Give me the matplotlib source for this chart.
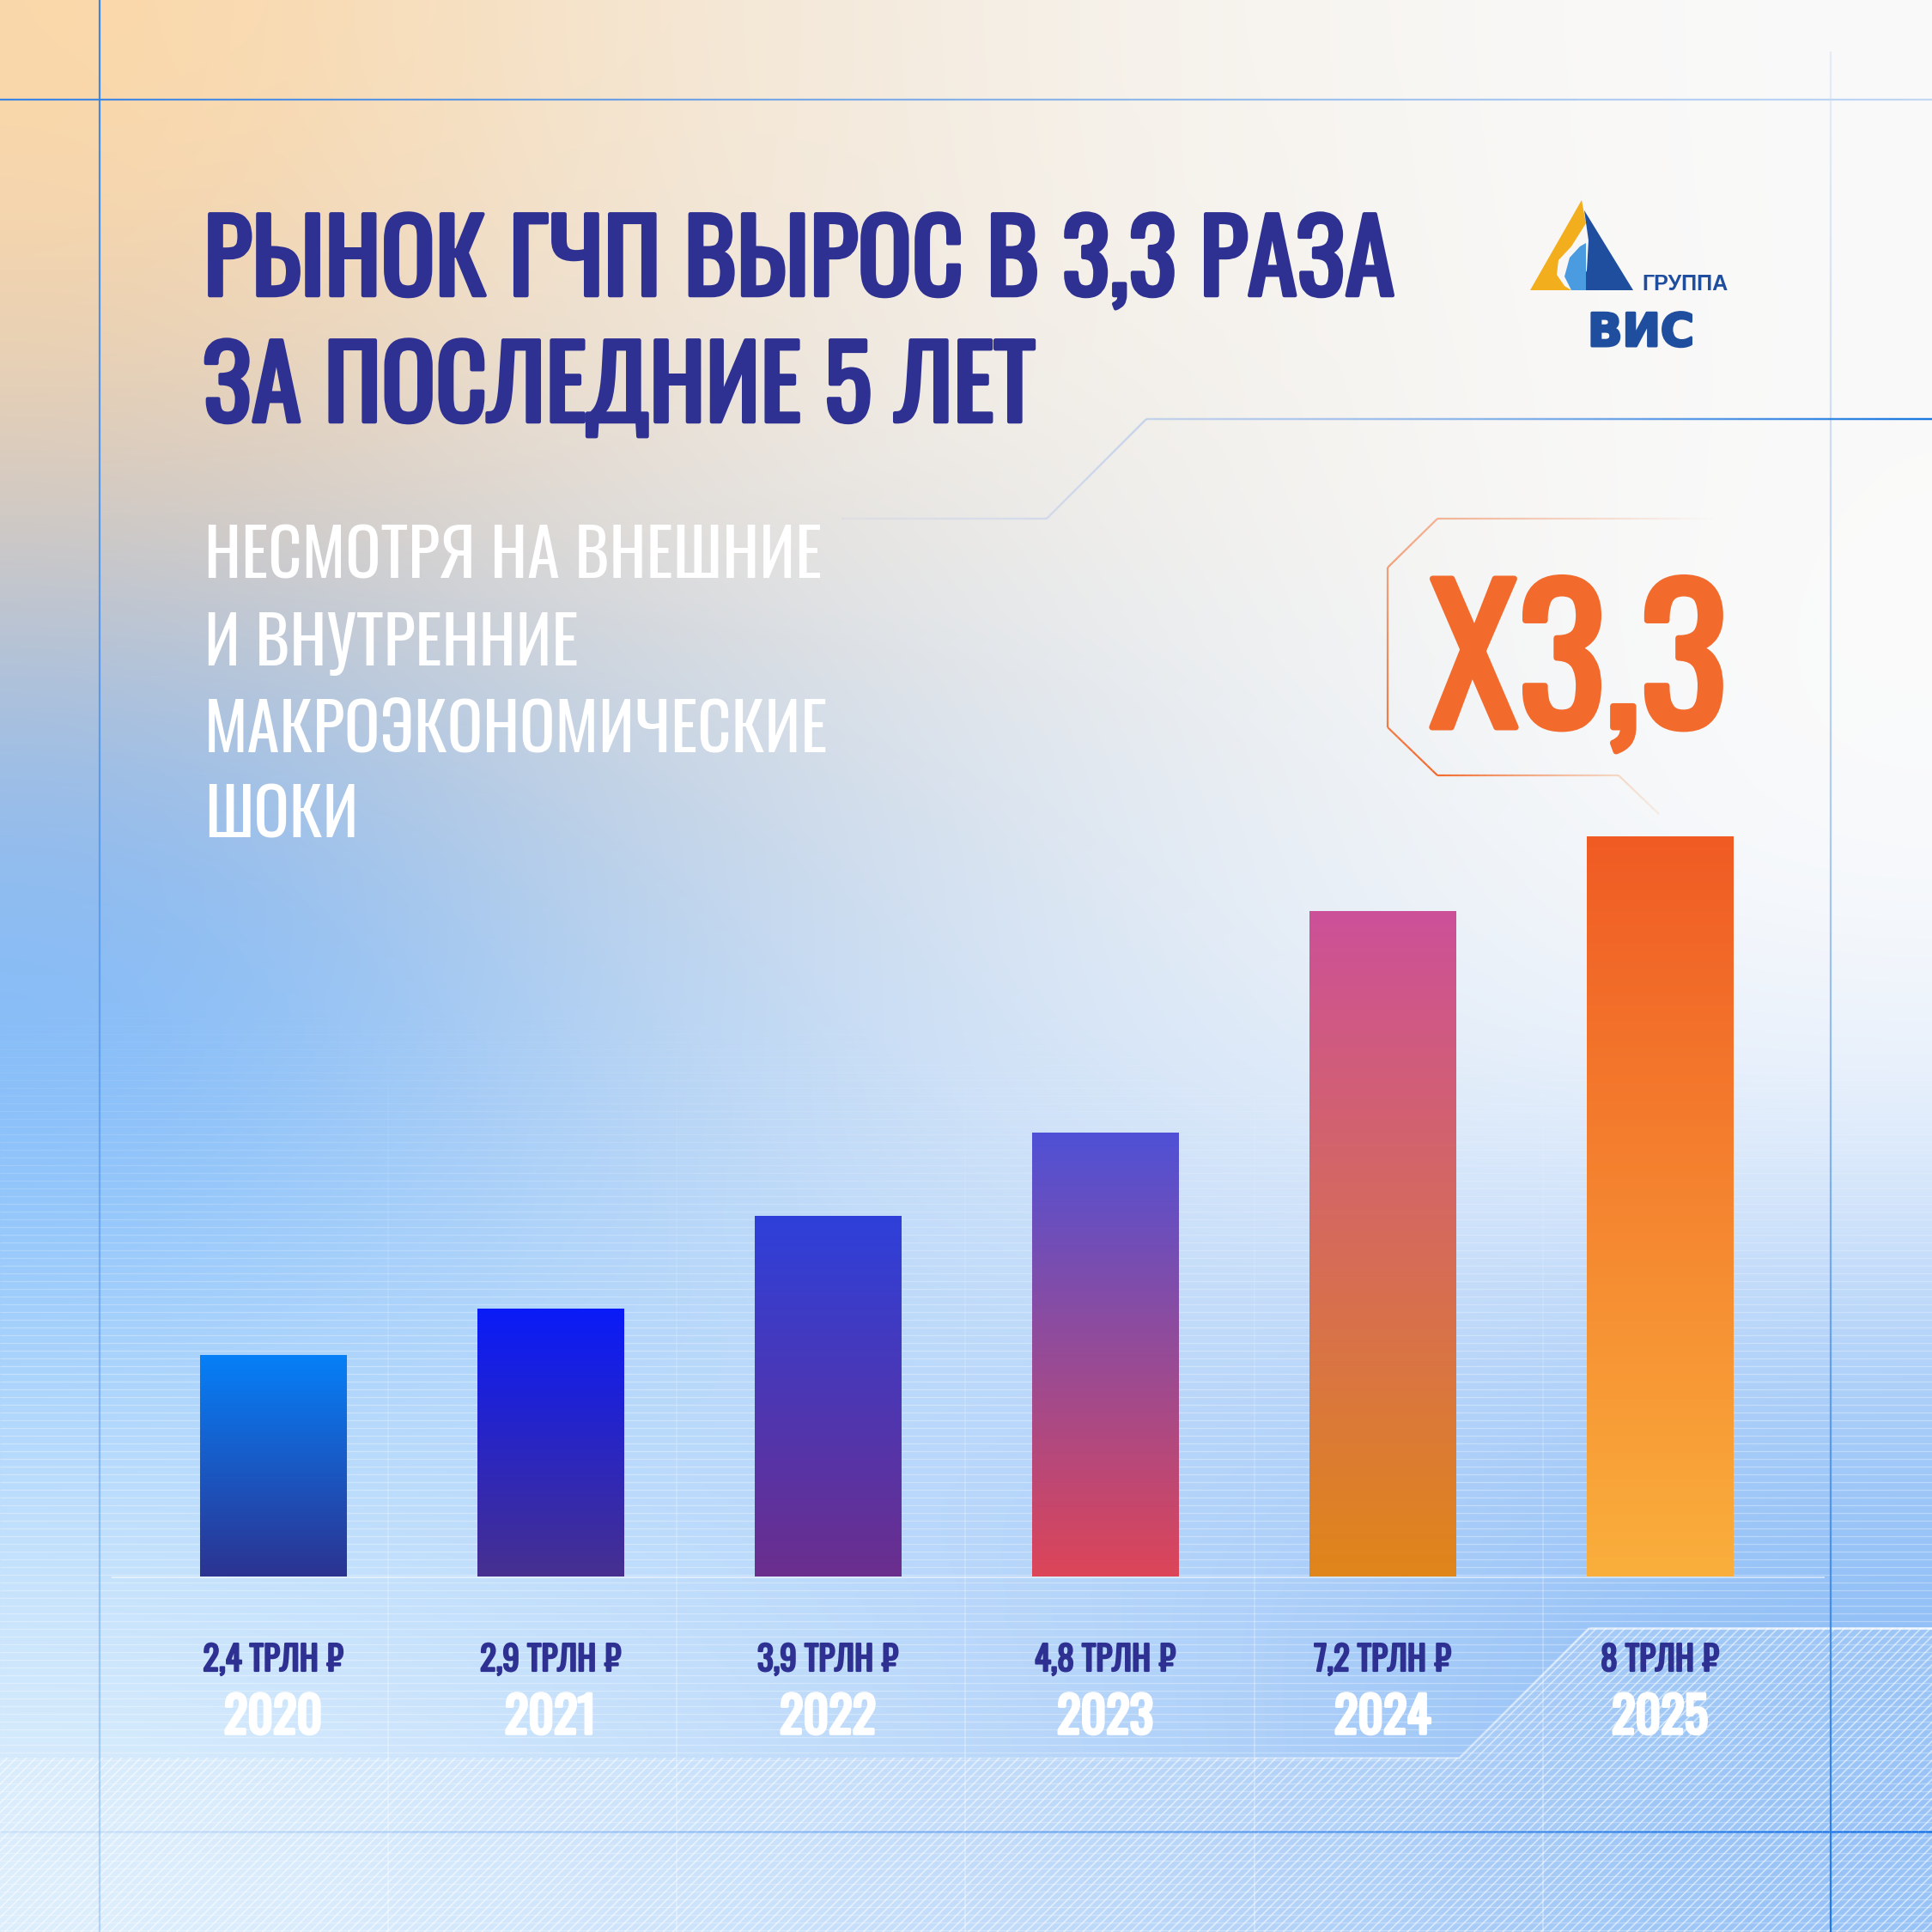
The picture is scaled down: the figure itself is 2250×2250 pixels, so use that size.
import matplotlib
import numpy as np

matplotlib.use("Agg")
import matplotlib.patheffects as pe
import matplotlib.pyplot as plt
from matplotlib import font_manager as fm
from matplotlib.collections import LineCollection
from matplotlib.colors import to_rgb
from matplotlib.patches import Polygon
from matplotlib.transforms import blended_transform_factory

DPI = 100
SIZE = 2250

# ---- data ----
years = ["2020", "2021", "2022", "2023", "2024", "2025"]
values = [2.4, 2.9, 3.9, 4.8, 7.2, 8.0]  # трлн руб.
value_labels = ["2,4 ТРЛН ₽", "2,9 ТРЛН ₽", "3,9 ТРЛН ₽",
                "4,8 ТРЛН ₽", "7,2 ТРЛН ₽", "8 ТРЛН ₽"]
bar_top_colors = ["#0680F8", "#0A1BF8", "#2E40DA", "#4F51D6", "#CC5099", "#F05B24"]
bar_bottom_colors = ["#2C3391", "#47308F", "#6B2E8D", "#DD4558", "#E0861A", "#FAAF3C"]

title_lines = ["РЫНОК ГЧП ВЫРОС В 3,3 РАЗА", "ЗА ПОСЛЕДНИЕ 5 ЛЕТ"]
subtitle_lines = ["НЕСМОТРЯ НА ВНЕШНИЕ", "И ВНУТРЕННИЕ", "МАКРОЭКОНОМИЧЕСКИЕ", "ШОКИ"]
growth_label = "Х3,3"
logo_small = "ГРУППА"
logo_big = "ВИС"

NAVY = "#2E3192"
ORANGE = "#F26A2C"
LOGO_BLUE = "#1F4E9F"

# background colour control grid (rows top->bottom, cols left->right)
BG_GRID = np.array([
    [(252, 216, 168), (245, 228, 205), (245, 238, 228), (248, 246, 243), (250, 250, 250)],
    [(222, 203, 186), (232, 222, 212), (240, 236, 230), (246, 244, 240), (250, 250, 250)],
    [(140, 185, 240), (185, 205, 228), (215, 225, 238), (238, 242, 246), (252, 252, 252)],
    [(128, 188, 252), (175, 210, 248), (210, 228, 250), (228, 238, 250), (235, 242, 252)],
    [(185, 220, 252), (185, 218, 252), (178, 212, 250), (170, 205, 250), (150, 195, 248)],
    [(220, 238, 253), (205, 228, 252), (190, 218, 250), (170, 205, 248), (140, 188, 245)],
]) / 255


def covers(path, chars):
    cmap = fm.get_font(path).get_charmap()
    return all(ord(c) in cmap for c in chars if c != " ")


def pick_font(candidates, chars, weight="normal"):
    for name in candidates:
        try:
            path = fm.findfont(fm.FontProperties(family=name, weight=weight),
                               fallback_to_default=False)
        except ValueError:
            continue
        if fm.get_font(path).family_name == name and covers(path, chars):
            return name
    return "DejaVu Sans"


ALL_TEXT = "".join(title_lines + subtitle_lines + value_labels + years + [growth_label])
COND_FONT = pick_font(["Oswald", "Roboto Condensed", "Fira Sans Extra Condensed",
                       "PT Sans Narrow", "Liberation Sans Narrow"], ALL_TEXT)
WIDE_FONT = pick_font(["Special Gothic Expanded One", "Zalando Sans Expanded",
                       "Zalando Sans SemiExpanded", "DejaVu Sans"], logo_big, "bold")


def fade_line(ax, pts, c0, c1, a0, a1, lw_px):
    pts = np.asarray(pts, float)
    dense = [pts[0]]
    for p, q in zip(pts[:-1], pts[1:]):
        n = max(2, int(np.hypot(*(q - p)) / 8))
        t = np.linspace(0, 1, n + 1)[1:]
        dense.extend(p + (q - p) * t[:, None])
    dense = np.array(dense)
    d = np.concatenate([[0], np.cumsum(np.hypot(*np.diff(dense, axis=0).T))])
    f = d / d[-1]
    fmid = (f[:-1] + f[1:]) / 2
    segs = np.stack([dense[:-1], dense[1:]], axis=1)
    c0, c1 = np.array(to_rgb(c0)), np.array(to_rgb(c1))
    cols = np.column_stack([c0 + (c1 - c0) * fmid[:, None], a0 + (a1 - a0) * fmid])
    ax.add_collection(LineCollection(segs, colors=cols, linewidths=lw_px * 72 / DPI,
                                     capstyle="butt", zorder=3))


def stroke(t, bold_px):
    t.set_path_effects([pe.withStroke(linewidth=bold_px * 72 / DPI, foreground=t.get_color())])


def put_text(ax, x, y, s, cap_px, max_w=None, bold_px=0, **kw):
    # size the text so its capital height is cap_px, shrink to max_w,
    # and thicken it with a stroke of bold_px pixels when the font has no bold face
    t = ax.text(x, y, s, fontsize=50, **kw)
    _, h, _ = renderer.get_text_width_height_descent("Н", t.get_fontproperties(), ismath=False)
    t.set_fontsize(50 * (cap_px - bold_px) / h)
    if max_w is not None:
        w = t.get_window_extent(renderer).width
        if w > max_w - bold_px:
            t.set_fontsize(t.get_fontsize() * (max_w - bold_px) / w)
    if bold_px:
        stroke(t, bold_px)
    return t


fig = plt.figure(figsize=(SIZE / DPI, SIZE / DPI), dpi=DPI)
renderer = fig.canvas.get_renderer()
plt.rcParams["hatch.linewidth"] = 1.2

# ---- background layer in pixel coordinates (y down) ----
bg = fig.add_axes([0, 0, 1, 1])
bg.imshow(BG_GRID, extent=(0, SIZE, SIZE, 0), interpolation="bicubic", aspect="auto", zorder=0)
bg.set_xlim(0, SIZE)
bg.set_ylim(SIZE, 0)
bg.axis("off")

# horizontal scan lines in the lower part
scan_y = np.arange(1150, SIZE, 9)
scan_a = np.clip((scan_y - 1150) / 450, 0, 1) * 0.32
bg.add_collection(LineCollection([[(0, y), (SIZE, y)] for y in scan_y],
                                 colors=[(1, 1, 1, a) for a in scan_a],
                                 linewidths=1.3 * 72 / DPI, zorder=1))
# faint vertical guides
for gx in [452, 788, 1124, 1461, 1797]:
    fade_line(bg, [(gx, 1150), (gx, SIZE)], "white", "white", 0.0, 0.45, 1.5)

# hatched lower panel
panel = Polygon([(0, 2047), (1700, 2047), (1851, 1896), (SIZE, 1896), (SIZE, SIZE), (0, SIZE)],
                closed=True, facecolor=(1, 1, 1, 0.1), edgecolor=(1, 1, 1, 0.55),
                lw=0, hatch="///", zorder=1)
bg.add_patch(panel)
fade_line(bg, [(900, 2047), (1700, 2047), (1851, 1896), (SIZE, 1896)],
          "white", "white", 0.0, 0.9, 2.5)

# blue frame lines
fade_line(bg, [(0, 116), (SIZE, 116)], "#2F80E8", "#7FB0F0", 0.95, 0.45, 2.2)
fade_line(bg, [(116, 0), (116, SIZE)], "#2F80E8", "#5FA0F0", 0.95, 0.35, 2.2)
fade_line(bg, [(2132, 60), (2132, SIZE)], "#C8D8F0", "#1F78E8", 0.4, 1.0, 2.2)
fade_line(bg, [(0, 2133), (SIZE, 2133)], "#8FB8F0", "#1F78E8", 0.2, 1.0, 2.5)

# connector under the title
fade_line(bg, [(SIZE, 488), (1335, 488), (1219, 604), (980, 604)],
          "#1A78E0", "#B4C2EE", 1.0, 0.15, 2.4)

# callout frame around the growth figure
fade_line(bg, [(1995, 604), (1674, 604), (1616, 661), (1616, 847), (1674, 903)],
          ORANGE, ORANGE, 0.0, 1.0, 2.2)
fade_line(bg, [(1674, 903), (1885, 903), (1932, 948)], ORANGE, "#F6B98E", 1.0, 0.2, 2.2)

# ---- logo ----
bg.add_patch(Polygon([(1782, 338), (1842, 233), (1847, 260), (1830, 287), (1815, 303),
                      (1813, 320), (1822, 333), (1830, 338)], closed=True,
                     facecolor="#F2AE1C", lw=0, zorder=3))
bg.add_patch(Polygon([(1845, 245), (1902, 338), (1837, 338), (1848, 315), (1850, 280)],
                     closed=True, facecolor="#1F4E9F", lw=0, zorder=3))
bg.add_patch(Polygon([(1847, 283), (1847, 338), (1830, 338), (1822, 322), (1828, 300),
                      (1840, 287)], closed=True, facecolor="#4A9BE0", lw=0, zorder=3))
put_text(bg, 1912, 338, logo_small, 17, max_w=106,
         family=["Liberation Sans", "DejaVu Sans"], fontweight="bold",
         color=LOGO_BLUE, ha="left", va="baseline", zorder=4)
put_text(bg, 1849, 403, logo_big, 42, max_w=168, bold_px=3, family=[WIDE_FONT, "DejaVu Sans"],
         fontweight="heavy", color=LOGO_BLUE, ha="left", va="baseline", zorder=4)

# ---- title & subtitle ----
COND = dict(family=[COND_FONT, "DejaVu Sans"])

t1 = put_text(bg, 237, 344, title_lines[0], 108, max_w=1392, bold_px=4.5, color=NAVY,
              ha="left", va="baseline", zorder=4, **COND)
t2 = bg.text(237, 491, title_lines[1], fontsize=t1.get_fontsize(), color=NAVY,
             ha="left", va="baseline", zorder=4, **COND)
stroke(t2, 4.5)

sub_texts = [put_text(bg, 238, base, line, 68, max_w=727, color="white",
                      ha="left", va="baseline", zorder=4, **COND)
             for line, base in zip(subtitle_lines, [673, 775, 875, 975])]
sub_size = min(t.get_fontsize() for t in sub_texts)
for t in sub_texts:
    t.set_fontsize(sub_size)

put_text(bg, 1665, 847, growth_label, 186, max_w=354, bold_px=7, color=ORANGE,
         ha="left", va="baseline", zorder=4, **COND)

# ---- bar chart ----
BASE_PX = 1836
PX_PER_UNIT = 107.7
STEP_PX = 323
FIRST_CENTER = 318
YMAX = 9
ax = fig.add_axes([(FIRST_CENTER - STEP_PX / 2) / SIZE, (SIZE - BASE_PX) / SIZE,
                   6 * STEP_PX / SIZE, YMAX * PX_PER_UNIT / SIZE])
ax.patch.set_alpha(0)
ax.axis("off")

x = np.arange(len(years))
bars = ax.bar(x, values, width=171 / STEP_PX, color=bar_bottom_colors, lw=0, zorder=2)
for bar, top, bot in zip(bars, bar_top_colors, bar_bottom_colors):
    t = np.linspace(0, 1, 256)[:, None]
    grad = (1 - t) * np.array(to_rgb(top)) + t * np.array(to_rgb(bot))
    x0, w, h = bar.get_x(), bar.get_width(), bar.get_height()
    im = ax.imshow(grad[:, None, :], extent=(x0, x0 + w, 0, h), origin="upper",
                   aspect="auto", interpolation="bilinear", zorder=3)
    im.set_clip_path(bar)
ax.set_xlim(-0.5, len(years) - 0.5)
ax.set_ylim(0, YMAX)

# baseline and small ticks under bars
lab_tr = blended_transform_factory(ax.transData, bg.transData)
fade_line(bg, [(130, BASE_PX + 1), (2125, BASE_PX + 1)], "white", "white", 0.5, 0.5, 2)
ax.vlines(x, [BASE_PX] * len(x), [1910] * len(x), transform=lab_tr,
          colors=(1, 1, 1, 0.5), lw=1.5 * 72 / DPI, zorder=1)

val_texts = [put_text(ax, xi, 1946, lab, 36, max_w=166, bold_px=2.2, transform=lab_tr,
                      color=NAVY, ha="center", va="baseline", **COND)
             for xi, lab in zip(x, value_labels)]
vs = min(t.get_fontsize() for t in val_texts)
for t in val_texts:
    t.set_fontsize(vs)

yr_texts = [put_text(ax, xi, 2019, yr, 54, max_w=118, bold_px=3.5, transform=lab_tr,
                     color="white", ha="center", va="baseline", **COND)
            for xi, yr in zip(x, years)]
ys = min(t.get_fontsize() for t in yr_texts)
for t in yr_texts:
    t.set_fontsize(ys)

fig.savefig("out.png", dpi=DPI)
